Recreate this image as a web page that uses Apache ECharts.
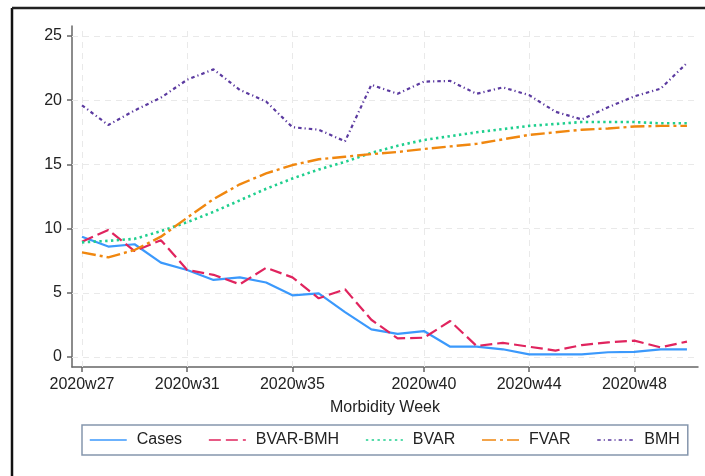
<!DOCTYPE html>
<html>
<head>
<meta charset="utf-8">
<script src="https://cdn.jsdelivr.net/npm/echarts@6/dist/echarts.min.js"></script>
<style>
html,body{margin:0;padding:0;background:#fff;}
#chart{width:705px;height:476px;}
</style>
</head>
<body>
<div id="chart"></div>
<script>
const weeks = [27,28,29,30,31,32,33,34,35,36,37,38,39,40,41,42,43,44,45,46,47,48,49,50];
const cases   = [9.37,8.6,8.78,7.35,6.78,6.0,6.2,5.8,4.8,4.96,3.5,2.15,1.8,2.02,0.8,0.8,0.6,0.2,0.2,0.2,0.37,0.4,0.6,0.6];
const bvarBmh = [8.98,9.9,8.25,9.1,6.78,6.4,5.66,6.95,6.2,4.57,5.27,2.9,1.45,1.5,2.8,0.86,1.1,0.8,0.5,0.93,1.14,1.27,0.75,1.2];
const bvar    = [8.93,9.05,9.2,9.8,10.5,11.3,12.2,13.1,13.9,14.6,15.2,15.9,16.45,16.9,17.2,17.5,17.75,18.0,18.15,18.3,18.3,18.3,18.2,18.2];
const fvar    = [8.15,7.76,8.33,9.37,10.85,12.3,13.45,14.3,14.95,15.4,15.6,15.8,15.97,16.2,16.4,16.6,16.95,17.3,17.5,17.7,17.8,17.95,18.0,18.0];
const bmh     = [19.6,18.07,19.2,20.2,21.6,22.4,20.8,19.9,17.9,17.7,16.8,21.2,20.5,21.45,21.5,20.5,21.0,20.4,19.1,18.5,19.45,20.3,20.9,22.9];
const xTicks = [27,31,35,40,44,48];
const yTicks = [0,5,10,15,20,25];
const seriesNames = ['Cases','BVAR-BMH','BVAR','FVAR','BMH'];

const pairs = vals => weeks.map((w,i)=>[w, vals[i]]);
const FONT = '"Liberation Sans", Arial, sans-serif';
const gridStyle = {color:'#e9e9e9', width:1, type:[6,5]};

const chart = echarts.init(document.getElementById('chart'), null, {renderer:'canvas'});
chart.setOption({
  animation:false,
  backgroundColor:'#fff',
  textStyle:{fontFamily:FONT},
  grid:{left:72, right:7, top:26, bottom:109, containLabel:false},
  xAxis:{
    type:'value', min:26.62, max:50.42,
    name:'Morbidity Week', nameLocation:'middle', nameGap:33,
    nameTextStyle:{fontSize:16, color:'#222', fontFamily:FONT},
    axisLine:{show:true, onZero:false, lineStyle:{color:'#666', width:1.5}},
    axisTick:{show:true, length:5, customValues:xTicks, lineStyle:{color:'#666', width:1.5}},
    axisLabel:{customValues:xTicks, margin:10, fontSize:16, color:'#222', fontFamily:FONT,
      formatter:v=>'2020w'+v},
    splitLine:{show:false}
  },
  yAxis:{
    type:'value', min:-0.78, max:25.78,
    axisLine:{show:true, onZero:false, lineStyle:{color:'#666', width:1.5}},
    axisTick:{show:true, length:5, customValues:yTicks, lineStyle:{color:'#666', width:1.5}},
    axisLabel:{customValues:yTicks, margin:10, fontSize:16, color:'#222', fontFamily:FONT},
    splitLine:{show:false}
  },
  legend:{
    data:seriesNames,
    left:82, top:425,
    orient:'horizontal',
    itemWidth:37, itemHeight:10, itemGap:26,
    padding:[7,8,7,7],
    borderColor:'#8596ad', borderWidth:1.5, borderRadius:0,
    backgroundColor:'#fff',
    itemStyle:{opacity:0},
    lineStyle:{width:1.5},
    textStyle:{fontSize:16, color:'#222', fontFamily:FONT, padding:[0,0,0,5]}
  },
  graphic:[
    {type:'line', shape:{x1:12, y1:8, x2:12, y2:476}, style:{stroke:'#111', lineWidth:2.5}, silent:true},
    {type:'line', shape:{x1:12, y1:8, x2:705, y2:8}, style:{stroke:'#222', lineWidth:2.5}, silent:true}
  ],
  series:[
    {
      name:'grid', type:'line', data:[], silent:true, z:1,
      markLine:{
        silent:true, symbol:['none','none'], label:{show:false},
        lineStyle:gridStyle, animation:false,
        emphasis:{disabled:true},
        data: yTicks.map(v=>({yAxis:v})).concat(xTicks.map(v=>({xAxis:v})))
      }
    },
    {name:'Cases', type:'line', data:pairs(cases), symbol:'none', z:5,
      lineStyle:{color:'#3b99fc', width:2.2, type:'solid'}, itemStyle:{color:'#3b99fc'}},
    {name:'BVAR-BMH', type:'line', data:pairs(bvarBmh), symbol:'none', z:5,
      lineStyle:{color:'#e0245e', width:2.2, type:[12,5]}, itemStyle:{color:'#e0245e'}},
    {name:'BVAR', type:'line', data:pairs(bvar), symbol:'none', z:5,
      lineStyle:{color:'#1fcf8e', width:2.6, type:[2.4,3.4]}, itemStyle:{color:'#1fcf8e'}},
    {name:'FVAR', type:'line', data:pairs(fvar), symbol:'none', z:5,
      lineStyle:{color:'#f0870f', width:2.4, type:[14,4,3,4]}, itemStyle:{color:'#f0870f'}},
    {name:'BMH', type:'line', data:pairs(bmh), symbol:'none', z:5,
      lineStyle:{color:'#5b3aa0', width:2.2, type:[3.5,3,1.2,3]}, itemStyle:{color:'#5b3aa0'}}
  ]
});
</script>
</body>
</html>
